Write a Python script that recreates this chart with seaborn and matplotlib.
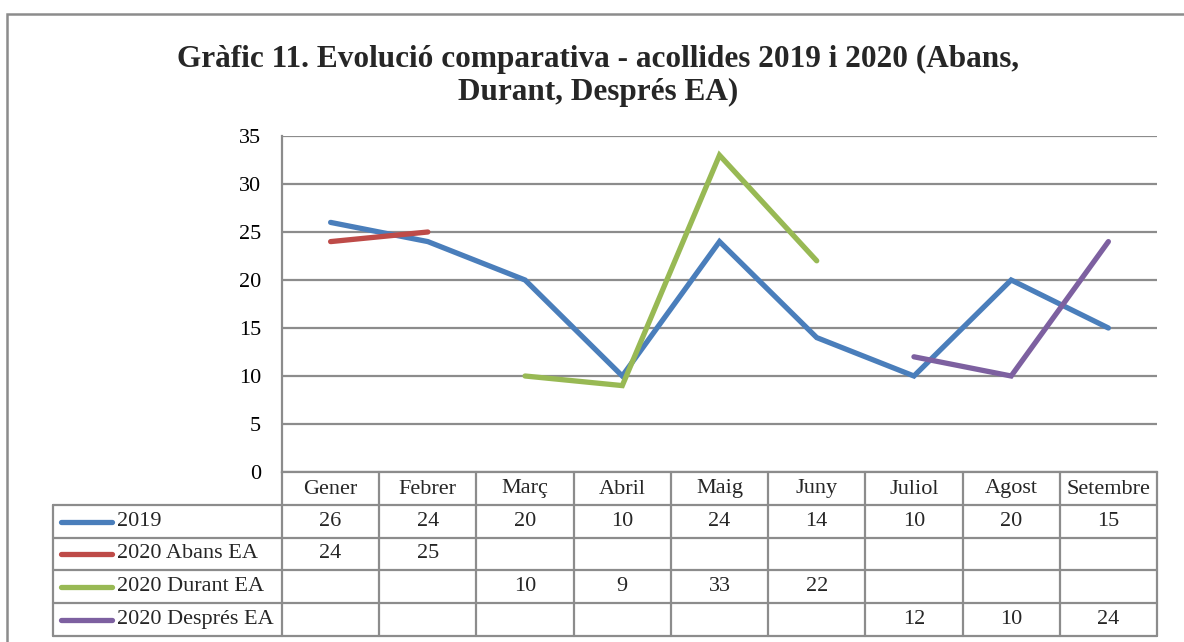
import numpy as np
import pandas as pd
import matplotlib
matplotlib.use('Agg')
import matplotlib.pyplot as plt
import seaborn as sns
from matplotlib.lines import Line2D
from matplotlib.patches import Rectangle
from matplotlib.transforms import blended_transform_factory

TITLE = 'Gràfic 11. Evolució comparativa - acollides 2019 i 2020 (Abans,\nDurant, Després EA)'
MONTHS = ['Gener', 'Febrer', 'Març', 'Abril', 'Maig', 'Juny', 'Juliol', 'Agost', 'Setembre']
SERIES = ['2019', '2020 Abans EA', '2020 Durant EA', '2020 Després EA']
VALS_2019 = [26, 24, 20, 10, 24, 14, 10, 20, 15]
VALS_ABANS = [24, 25, None, None, None, None, None, None, None]
VALS_DURANT = [None, None, 10, 9, 33, 22, None, None, None]
VALS_DESPRES = [None, None, None, None, None, None, 12, 10, 24]
COLORS = ['#4A7EBB', '#BE4B48', '#98B954', '#7D60A0']
Y_TICKS = [0, 5, 10, 15, 20, 25, 30, 35]

GRID = '#8c8c8c'
FONT = 'Liberation Serif'
FS = 16

sns.set_theme(style='white')
plt.rcParams['font.family'] = [FONT, 'DejaVu Serif']

W, H = 1184, 642
fig = plt.figure(figsize=(W / 100, H / 100), dpi=100)


def fx(x):
    return x / W


def fy(y):
    return 1 - y / H


ax = fig.add_axes([fx(282), fy(472), fx(1157) - fx(282), fy(136) - fy(472)])

# long table for seaborn
rows = []
for name, vals in zip(SERIES, [VALS_2019, VALS_ABANS, VALS_DURANT, VALS_DESPRES]):
    for i, v in enumerate(vals):
        rows.append({'serie': name, 'pos': i, 'value': v})
df = pd.DataFrame(rows).dropna()

sns.lineplot(data=df, x='pos', y='value', hue='serie', hue_order=SERIES,
             palette=COLORS, linewidth=3.8, legend=False, ax=ax,
             estimator=None, sort=False, solid_capstyle='round', solid_joinstyle='miter')

ax.set_xlim(-0.5, len(MONTHS) - 0.5)
ax.set_ylim(0, 35)
ax.set_yticks(Y_TICKS)
ax.set_xticks([])
ax.set_xlabel('')
ax.set_ylabel('')
ax.tick_params(axis='y', length=0, pad=15, labelsize=FS, colors='black')
ax.yaxis.grid(True, color=GRID, linewidth=1.6)
ax.set_axisbelow(True)
for side in ['top', 'right']:
    ax.spines[side].set_visible(False)
ax.spines['left'].set_color(GRID)
ax.spines['left'].set_linewidth(1.6)
ax.spines['bottom'].set_color(GRID)
ax.spines['bottom'].set_linewidth(1.6)

# outer chart border
fig.add_artist(Rectangle((fx(7), fy(700)), 1.2, fy(14) - fy(700), transform=fig.transFigure,
                         fill=False, edgecolor='#8c8c8c', linewidth=1.8, clip_on=False))

fig.text(fx(598), fy(76), TITLE, ha='center', va='center', fontsize=22.5,
         fontweight='bold', linespacing=1.2)

# data table below the axes
tr = blended_transform_factory(ax.transData, fig.transFigure)
row_edges = [472, 505, 538, 570, 603, 636]
lw = 1.6
for y in row_edges[1:]:
    fig.add_artist(Line2D([fx(53), fx(1157)], [fy(y), fy(y)], transform=fig.transFigure,
                          color=GRID, linewidth=lw))
fig.add_artist(Line2D([fx(53), fx(53)], [fy(505), fy(636)], transform=fig.transFigure,
                      color=GRID, linewidth=lw))
fig.add_artist(Line2D([fx(282), fx(282)], [fy(472), fy(636)], transform=fig.transFigure,
                      color=GRID, linewidth=lw))
for i in range(len(MONTHS)):
    fig.add_artist(Line2D([i + 0.5, i + 0.5], [fy(472), fy(636)], transform=tr,
                          color=GRID, linewidth=lw))

for i, m in enumerate(MONTHS):
    fig.text(i, fy(489), m, transform=tr, ha='center', va='center', fontsize=FS)

all_vals = [VALS_2019, VALS_ABANS, VALS_DURANT, VALS_DESPRES]
for r, (name, vals, col) in enumerate(zip(SERIES, all_vals, COLORS)):
    yc = fy((row_edges[r + 1] + row_edges[r + 2]) / 2)
    fig.add_artist(Line2D([fx(61), fx(112)], [yc, yc], transform=fig.transFigure,
                          color=col, linewidth=3.8, solid_capstyle='round'))
    fig.text(fx(117), yc, name, ha='left', va='center', fontsize=FS)
    for i, v in enumerate(vals):
        if v is not None:
            fig.text(i, yc, str(v), transform=tr, ha='center', va='center', fontsize=FS)

fig.savefig('out.png', dpi=100)
